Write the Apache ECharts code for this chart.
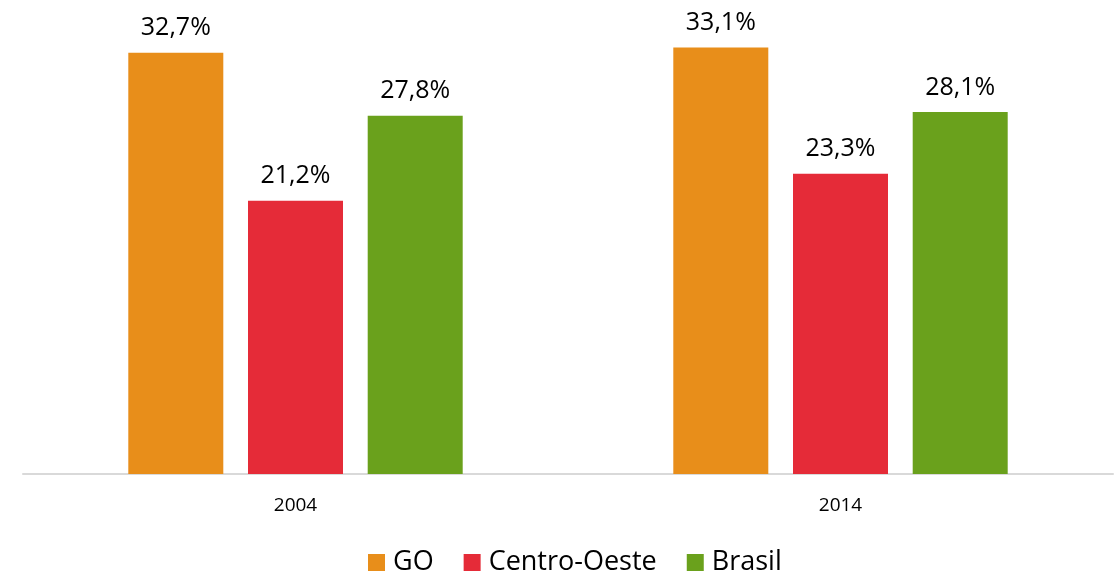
<!DOCTYPE html>
<html>
<head>
<meta charset="utf-8">
<script src="https://cdn.jsdelivr.net/npm/echarts@6/dist/echarts.min.js"></script>
<style>
  html, body { margin: 0; padding: 0; background: #fff; }
  #mainPlot { width: 1119px; height: 579px; }
</style>
</head>
<body>
<div id="mainPlot"></div>
<script>
const years = ["2004", "2014"];
const goValues = [32.7, 33.1];
const centroOesteValues = [21.2, 23.3];
const brasilValues = [27.8, 28.1];

const fontName = "Open Sans";
const labelFmt = (p) => p.value.toFixed(1).replace(".", ",") + "%";

function makeSeries(name, data, color) {
  return {
    name: name,
    type: "bar",
    data: data,
    barWidth: 95,
    barGap: "26%",
    itemStyle: { color: color },
    label: {
      show: true,
      position: "top",
      distance: 12,
      formatter: labelFmt,
      color: "#000",
      fontSize: 25,
      fontFamily: fontName,
    },
  };
}

const chart = echarts.init(document.getElementById("mainPlot"));
chart.setOption({
  animation: false,
  grid: { left: 23, right: 6, top: 23, bottom: 105 },
  legend: {
    bottom: -2,
    left: 363,
    itemWidth: 17,
    itemHeight: 17,
    itemGap: 30,
    icon: "rect",
    textStyle: { fontSize: 27, fontFamily: fontName, color: "#000", padding: [0, 0, 0, 3] },
  },
  xAxis: {
    type: "category",
    data: years,
    axisLine: { lineStyle: { color: "#d9d9d9", width: 2 } },
    axisTick: { show: false },
    axisLabel: { color: "#000", fontSize: 19, fontFamily: fontName, margin: 22 },
  },
  yAxis: {
    type: "value",
    min: 0,
    max: 35,
    show: false,
    splitLine: { show: false },
  },
  series: [
    makeSeries("GO", goValues, "#E88E1A"),
    makeSeries("Centro-Oeste", centroOesteValues, "#E52B38"),
    makeSeries("Brasil", brasilValues, "#6AA11C"),
  ],
});
</script>
</body>
</html>
